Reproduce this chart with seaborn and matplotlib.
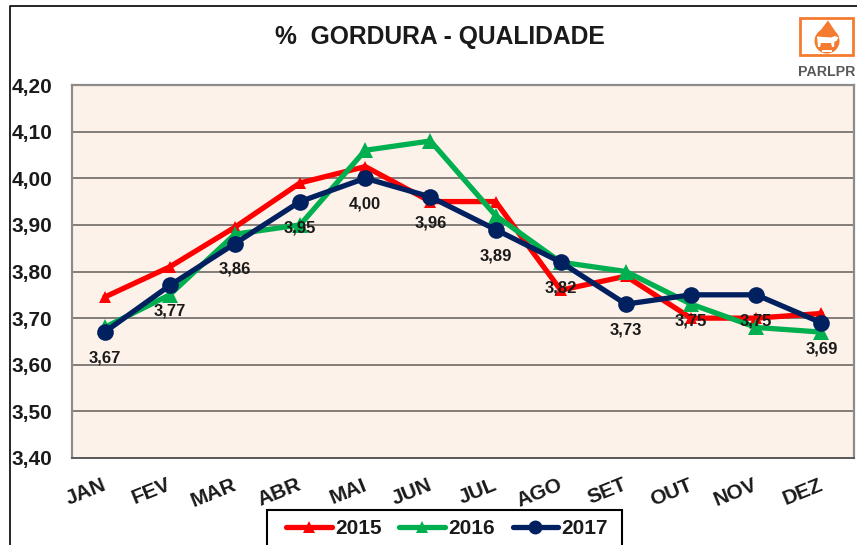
import matplotlib
matplotlib.use("Agg")
import matplotlib.pyplot as plt
from matplotlib.patches import Rectangle, Polygon, Circle
from matplotlib.transforms import ScaledTranslation
import pandas as pd
import seaborn as sns

months = ["JAN", "FEV", "MAR", "ABR", "MAI", "JUN", "JUL", "AGO", "SET", "OUT", "NOV", "DEZ"]
v2015 = [3.745, 3.81, 3.895, 3.99, 4.025, 3.95, 3.95, 3.76, 3.79, 3.70, 3.70, 3.71]
v2016 = [3.68, 3.75, 3.88, 3.90, 4.06, 4.08, 3.92, 3.82, 3.80, 3.73, 3.68, 3.67]
v2017 = [3.67, 3.77, 3.86, 3.95, 4.00, 3.96, 3.89, 3.82, 3.73, 3.75, 3.75, 3.69]
years = ["2015", "2016", "2017"]
yticks = [3.4, 3.5, 3.6, 3.7, 3.8, 3.9, 4.0, 4.1, 4.2]
title = "%  GORDURA - QUALIDADE"

sns.set_style("white")
plt.rcParams["font.family"] = ["Liberation Sans", "DejaVu Sans"]
plt.rcParams["font.weight"] = "bold"

W, H = 857, 545
fig = plt.figure(figsize=(W / 100, H / 100), dpi=100, facecolor="white")
ax = fig.add_axes([72 / W, 1 - 458 / H, (854 - 72) / W, (458 - 85) / H])
ax.set_facecolor("#FDF2E9")

df = pd.DataFrame({
    "mes": months * 3,
    "valor": v2015 + v2016 + v2017,
    "ano": [y for y in years for _ in months],
})
palette = {"2015": "#FF0000", "2016": "#00B050", "2017": "#002060"}
markers = {"2015": "^", "2016": "^", "2017": "o"}
sns.lineplot(data=df, x="mes", y="valor", hue="ano", style="ano", palette=palette,
             markers=markers, dashes=False, sort=False, linewidth=3.8, ax=ax,
             markeredgewidth=0, zorder=3)
sizes = {"2015": 9, "2016": 11, "2017": 12}
leg_sizes = {"2015": 8, "2016": 9, "2017": 10}
handles, labels = ax.get_legend_handles_labels()
for line, y in zip(ax.get_lines()[:3], years):
    line.set_markersize(sizes[y])
    line.set_solid_capstyle("round")
for h, y in zip(handles, labels):
    h.set_markersize(leg_sizes[y])
    h.set_solid_capstyle("round")

ax.set_xlim(-0.5, 11.5)
ax.set_ylim(3.4, 4.2)
ax.set_yticks(yticks)
ax.set_yticklabels([f"{t:.2f}".replace(".", ",") for t in yticks], fontsize=15, fontweight="bold", color="#1a1a1a")
ax.set_xticks(range(len(months)))
ax.set_xticklabels(months, fontsize=15, fontweight="bold", rotation=22, color="#1a1a1a",
                   rotation_mode="anchor", ha="right", va="top")
ax.tick_params(axis="y", length=0, pad=14)
ax.tick_params(axis="x", length=0, pad=12.5)
shift = ScaledTranslation(-3 / 100, 0, fig.dpi_scale_trans)
for lab in ax.get_xticklabels():
    lab.set_transform(lab.get_transform() + shift)
ax.set_xlabel("")
ax.set_ylabel("")
ax.grid(axis="y", color="#6E6A66", linewidth=1.2, zorder=1)
ax.grid(axis="x", visible=False)
ax.set_axisbelow(True)
for s in ["left", "right", "top"]:
    ax.spines[s].set_color("#8C8C8C")
    ax.spines[s].set_linewidth(1.6)
ax.spines["bottom"].set_color("#5A5A5A")
ax.spines["bottom"].set_linewidth(1.4)

for i, v in enumerate(v2017):
    ax.annotate(f"{v:.2f}".replace(".", ","), (i, v), xytext=(0, -18.7), textcoords="offset points",
                ha="center", va="center", fontsize=12, fontweight="bold", color="#1a1a1a", zorder=5)

fig.text(440 / W, 1 - 37 / H, title, ha="center", va="center", fontsize=17.7, fontweight="bold", color="#1a1a1a")

# legend box
ax.get_legend().remove()
fig.add_artist(Rectangle((267 / W, -2 / H), 355 / W, 37 / H, transform=fig.transFigure,
                         facecolor="white", edgecolor="black", linewidth=1.5, zorder=4))
leg = fig.legend(handles, labels, ncol=3, loc="center left", bbox_to_anchor=(286 / W, 1 - 529 / H),
                 bbox_transform=fig.transFigure, frameon=False, fontsize=15, handlelength=2.2,
                 handletextpad=0.15, columnspacing=0.85, borderpad=0, borderaxespad=0, labelspacing=0)
leg.set_zorder(6)
for t in leg.get_texts():
    t.set_fontweight("bold")
    t.set_color("#1a1a1a")

# outer chart border (open at right and bottom, runs off the image)
fig.add_artist(plt.Line2D([9.5 / W, 9.5 / W, 1], [0, 1 - 6 / H, 1 - 6 / H], transform=fig.transFigure,
                          color="black", linewidth=1.2))

# logo
la = fig.add_axes([795 / W, 1 - 82 / H, 62 / W, 68 / H])
la.set_xlim(795, 857)
la.set_ylim(82, 14)
la.axis("off")
orange = "#F47B30"
la.add_patch(Rectangle((800, 17.5), 53, 37, fill=False, edgecolor=orange, linewidth=2))
la.add_patch(Circle((827, 41), 12.5, color=orange, linewidth=0))
la.add_patch(Polygon([(828, 20.5), (815.5, 37), (839, 37)], closed=True, color=orange, linewidth=0))
la.add_patch(Polygon([(817, 36.5), (831, 37.5), (835, 36), (838.5, 37.5), (836.5, 41), (834.5, 41.5),
                      (834, 47), (832, 47), (831, 43), (821, 43), (820, 47), (818, 47)],
                     closed=True, color="white", linewidth=0))
la.add_patch(Rectangle((822, 50), 10, 1.5, color="white", linewidth=0))
la.text(826.5, 71.5, "PARLPR", ha="center", va="center", fontsize=10.2, fontweight="bold", color="#595959")

fig.savefig("out.png", dpi=100)
